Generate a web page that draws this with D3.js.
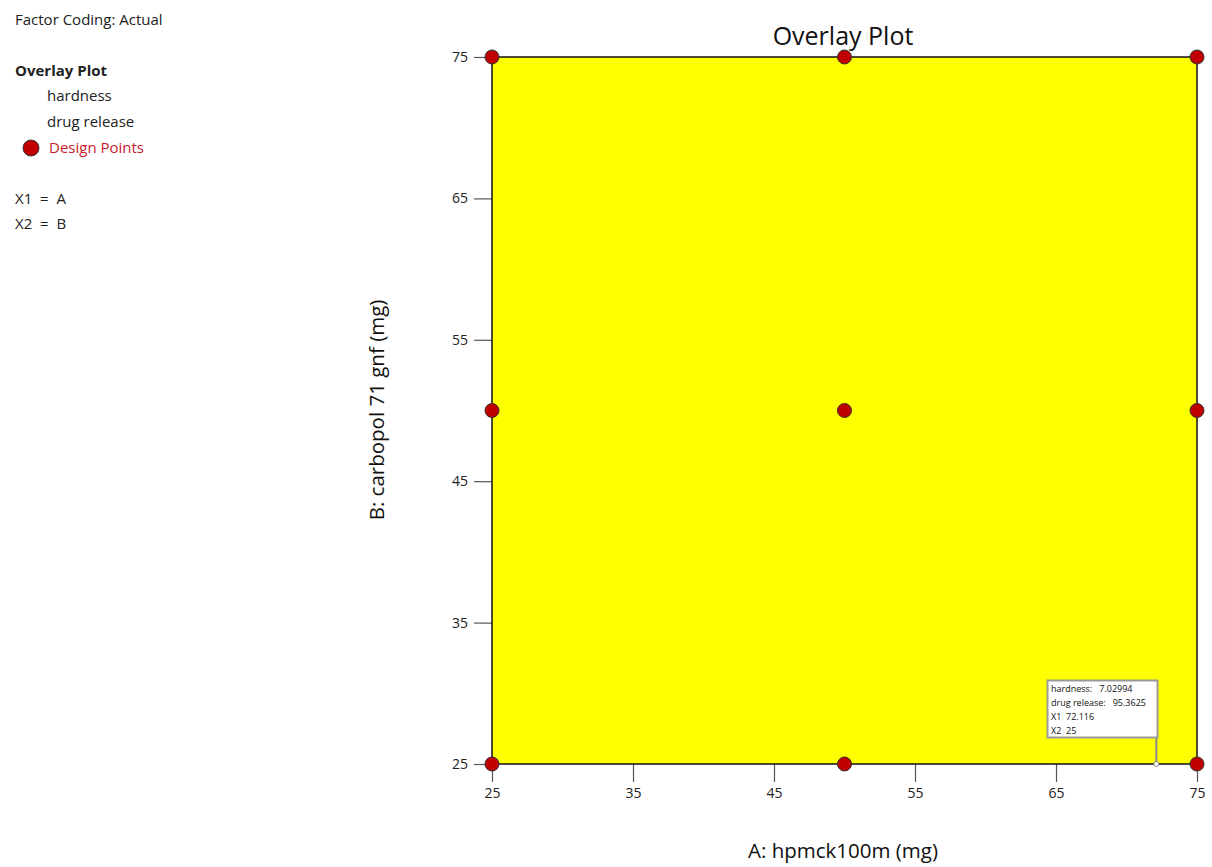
<!DOCTYPE html>
<html>
<head>
<meta charset="utf-8">
<script src="https://cdn.jsdelivr.net/npm/d3@7"></script>
<style>
  body { margin: 0; background: #fff; }
  svg { display: block; font-family: "Open Sans", "Noto Sans", sans-serif; }
  svg text { white-space: pre; }
  .axis text { font-size: 14px; fill: #222; font-family: "Open Sans", "Noto Sans", sans-serif; }
  .axis path { display: none; }
  .axis line { stroke: #555; stroke-width: 1.2; }
</style>
</head>
<body>
<svg id="chart" width="1212" height="867"></svg>
<script>
const xTicks = [25, 35, 45, 55, 65, 75];
const yTicks = [25, 35, 45, 55, 65, 75];
const designA = [25, 50, 75, 25, 50, 75, 25, 50, 75];
const designB = [25, 25, 25, 50, 50, 50, 75, 75, 75];
const flagLines = ["hardness:   7.02994", "drug release:   95.3625", "X1  72.116", "X2  25"];
const flagPoint = [72.116, 25];

const svg = d3.select("#chart");
const x = d3.scaleLinear().domain([25, 75]).range([492, 1197]);
const y = d3.scaleLinear().domain([25, 75]).range([764, 57]);

// side legend
const side = svg.append("g").attr("font-size", 15).attr("fill", "#222");
side.append("text").attr("x", 15).attr("y", 25).text("Factor Coding: Actual");
side.append("text").attr("x", 15).attr("y", 76).attr("font-weight", "bold").text("Overlay Plot");
side.append("text").attr("x", 47).attr("y", 101).text("hardness");
side.append("text").attr("x", 47).attr("y", 127).text("drug release");
side.append("circle").attr("cx", 31).attr("cy", 148).attr("r", 8)
  .attr("fill", "#c00000").attr("stroke", "#333").attr("stroke-width", 1);
side.append("text").attr("x", 49).attr("y", 153).attr("fill", "#c8202a").text("Design Points");
side.append("text").attr("x", 15).attr("y", 204).text("X1  =  A");
side.append("text").attr("x", 15).attr("y", 229).text("X2  =  B");

// axes
svg.append("g").attr("class", "axis")
  .attr("transform", `translate(0,${y(25)})`)
  .call(d3.axisBottom(x).tickValues(xTicks).tickSize(18).tickPadding(6));
svg.append("g").attr("class", "axis")
  .attr("transform", `translate(${x(25)},0)`)
  .call(d3.axisLeft(y).tickValues(yTicks).tickSize(18).tickPadding(6));
svg.selectAll(".axis").attr("font-family", null).attr("font-size", null);

// feasible region
svg.append("rect")
  .attr("x", x(25)).attr("y", y(75))
  .attr("width", x(75) - x(25)).attr("height", y(25) - y(75))
  .attr("fill", "#ffff00").attr("stroke", "#111").attr("stroke-width", 1.5);

// flag
const fx = x(flagPoint[0]), fy = y(flagPoint[1]);
svg.append("line").attr("x1", fx).attr("x2", fx).attr("y1", 737).attr("y2", fy)
  .attr("stroke", "#888").attr("stroke-width", 2);
svg.append("rect").attr("x", 1047.5).attr("y", 680.5).attr("width", 110).attr("height", 57)
  .attr("fill", "#fff").attr("stroke", "#999").attr("stroke-width", 2);
flagLines.forEach((t, i) => {
  svg.append("text").attr("x", 1051).attr("y", 692 + i * 14)
    .attr("font-size", 9).attr("fill", "#111").text(t);
});
svg.append("circle").attr("cx", fx).attr("cy", fy).attr("r", 2.5)
  .attr("fill", "#fff").attr("stroke", "#888").attr("stroke-width", 1);

// design points
svg.append("g").selectAll("circle")
  .data(designA.map((a, i) => [a, designB[i]]))
  .join("circle")
  .attr("cx", d => x(d[0])).attr("cy", d => y(d[1])).attr("r", 7)
  .attr("fill", "#c00000").attr("stroke", "#333").attr("stroke-width", 1);

// titles
svg.append("text").attr("x", 843).attr("y", 45).attr("text-anchor", "middle")
  .attr("font-size", 25).attr("fill", "#111").text("Overlay Plot");
svg.append("text").attr("x", 843).attr("y", 858).attr("text-anchor", "middle")
  .attr("font-size", 20.5).attr("fill", "#111").text("A: hpmck100m (mg)");
svg.append("text").attr("transform", `translate(384,410) rotate(-90)`).attr("text-anchor", "middle")
  .attr("font-size", 20.5).attr("fill", "#111").text("B: carbopol 71 gnf (mg)");
</script>
</body>
</html>
